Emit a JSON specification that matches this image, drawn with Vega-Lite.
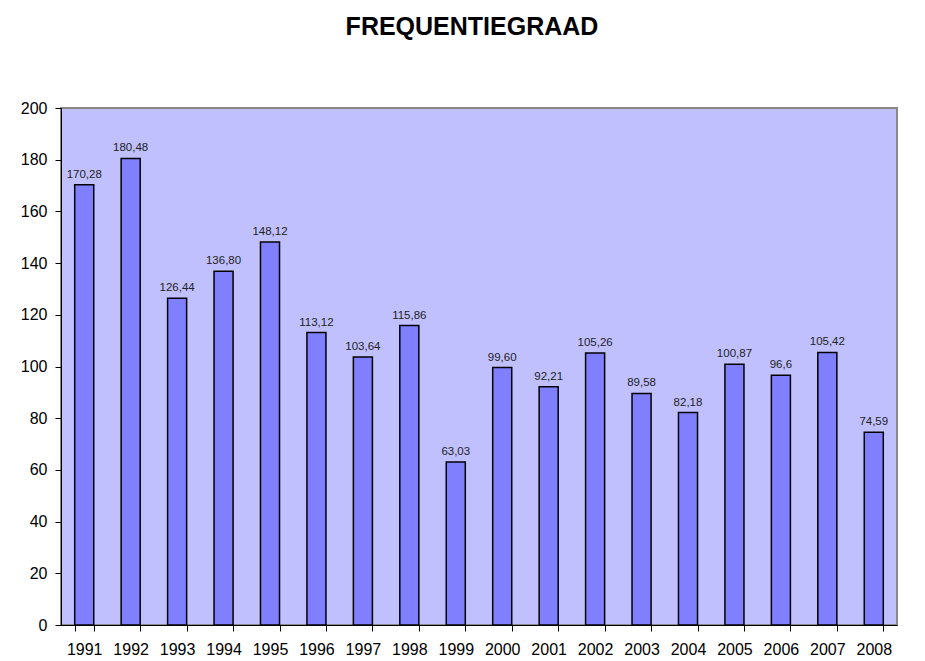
{
  "$schema": "https://vega.github.io/schema/vega-lite/v6.json",
  "width": 836,
  "height": 517,
  "autosize": {"type": "none"},
  "padding": {"left": 61, "top": 108, "right": 28, "bottom": 36},
  "background": "white",
  "title": {
    "text": "FREQUENTIEGRAAD",
    "font": "Liberation Sans",
    "fontSize": 25,
    "fontWeight": "bold",
    "color": "black",
    "anchor": "middle",
    "dx": -7,
    "offset": 60
  },
  "data": {
    "values": [
      {"year": "1991", "value": 170.28, "label": "170,28"},
      {"year": "1992", "value": 180.48, "label": "180,48"},
      {"year": "1993", "value": 126.44, "label": "126,44"},
      {"year": "1994", "value": 136.80, "label": "136,80"},
      {"year": "1995", "value": 148.12, "label": "148,12"},
      {"year": "1996", "value": 113.12, "label": "113,12"},
      {"year": "1997", "value": 103.64, "label": "103,64"},
      {"year": "1998", "value": 115.86, "label": "115,86"},
      {"year": "1999", "value": 63.03, "label": "63,03"},
      {"year": "2000", "value": 99.60, "label": "99,60"},
      {"year": "2001", "value": 92.21, "label": "92,21"},
      {"year": "2002", "value": 105.26, "label": "105,26"},
      {"year": "2003", "value": 89.58, "label": "89,58"},
      {"year": "2004", "value": 82.18, "label": "82,18"},
      {"year": "2005", "value": 100.87, "label": "100,87"},
      {"year": "2006", "value": 96.6, "label": "96,6"},
      {"year": "2007", "value": 105.42, "label": "105,42"},
      {"year": "2008", "value": 74.59, "label": "74,59"}
    ]
  },
  "encoding": {
    "x": {
      "field": "year",
      "type": "nominal",
      "sort": null,
      "scale": {"paddingInner": 0.59, "paddingOuter": 0.295},
      "axis": {
        "title": null,
        "labelAngle": 0,
        "tickBand": "extent",
        "domainColor": "black",
        "tickColor": "black",
        "tickSize": 6,
        "labelPadding": 10,
        "labelFont": "Liberation Sans",
        "labelFontSize": 16,
        "labelColor": "black"
      }
    },
    "y": {
      "field": "value",
      "type": "quantitative",
      "scale": {"domain": [0, 200], "nice": false},
      "axis": {
        "title": null,
        "values": [0, 20, 40, 60, 80, 100, 120, 140, 160, 180, 200],
        "grid": false,
        "domainColor": "black",
        "tickColor": "black",
        "tickSize": 6,
        "labelPadding": 8,
        "labelFont": "Liberation Sans",
        "labelFontSize": 16,
        "labelColor": "black"
      }
    }
  },
  "layer": [
    {
      "mark": {"type": "bar", "fill": "#8080FF", "stroke": "black", "strokeWidth": 1.5}
    },
    {
      "mark": {
        "type": "text",
        "baseline": "bottom",
        "dy": -5,
        "font": "Liberation Sans",
        "fontSize": 11.5,
        "color": "#222222"
      },
      "encoding": {"text": {"field": "label", "type": "nominal"}}
    }
  ],
  "config": {
    "view": {"fill": "#C0C0FF", "stroke": "#888888", "strokeWidth": 2}
  }
}
